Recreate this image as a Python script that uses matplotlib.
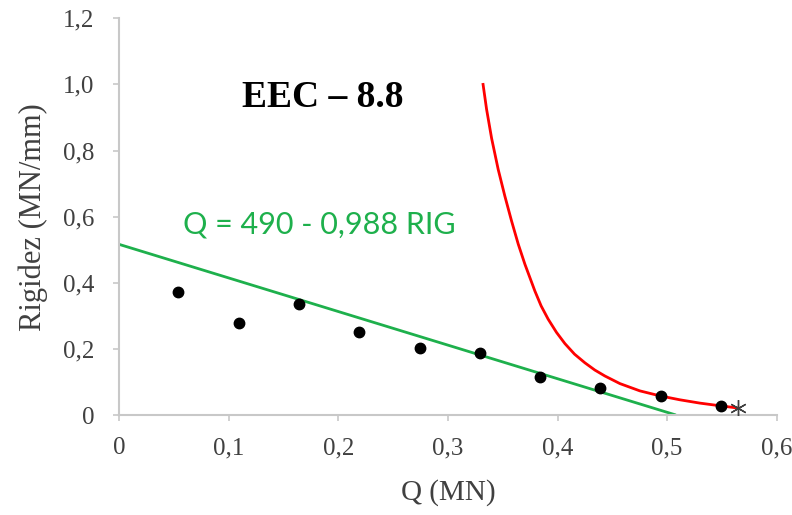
import matplotlib
matplotlib.use("Agg")
import matplotlib.pyplot as plt
from matplotlib.ticker import FixedLocator, FixedFormatter

# ---- data ----
pts_q = [0.054, 0.109, 0.164, 0.219, 0.274, 0.329, 0.384, 0.439, 0.494, 0.549]
pts_rig = [0.371, 0.277, 0.335, 0.250, 0.202, 0.189, 0.114, 0.083, 0.058, 0.027]

star_q = [0.565]
star_rig = [0.020]

green_q = [0.0, 0.508]
green_rig = [0.516, 0.0]

red_q = [0.332, 0.3352, 0.3398, 0.3458, 0.3519, 0.3580, 0.3641, 0.3702,
         0.3793, 0.3850, 0.3914, 0.3990, 0.4067, 0.4155, 0.4249, 0.4340,
         0.4432, 0.4569, 0.4751, 0.4933, 0.5116, 0.5298, 0.5481, 0.5648]
red_rig = [1.000, 0.925, 0.837, 0.743, 0.662, 0.587, 0.517, 0.456,
           0.375, 0.330, 0.290, 0.250, 0.216, 0.184, 0.158, 0.136,
           0.118, 0.095, 0.073, 0.058, 0.046, 0.036, 0.028, 0.021]

xticks = [0, 0.1, 0.2, 0.3, 0.4, 0.5, 0.6]
xticklabels = ["0", "0,1", "0,2", "0,3", "0,4", "0,5", "0,6"]
yticks = [0, 0.2, 0.4, 0.6, 0.8, 1.0, 1.2]
yticklabels = ["0", "0,2", "0,4", "0,6", "0,8", "1,0", "1,2"]

title_text = "EEC \u2013 8.8"
eq_text = "Q = 490 - 0,988 RIG"
xlabel = "Q (MN)"
ylabel = "Rigidez (MN/mm)"

# ---- figure ----
W, H = 792, 515
fig = plt.figure(figsize=(W / 100, H / 100), dpi=100)
ax = fig.add_axes([119.3 / W, 1 - 415 / H, (776.7 - 119.3) / W, (415 - 18.3) / H])

serif = ["Liberation Serif", "DejaVu Serif"]
grey_spine = "#c8c8c8"
txt_col = "#404040"

ax.plot(green_q, green_rig, color="#1eb04c", lw=2.0, solid_capstyle="butt", zorder=2)
ax.plot(red_q, red_rig, color="#ff0000", lw=2.0, solid_joinstyle="round", zorder=2)
ax.plot(pts_q, pts_rig, linestyle="none", marker="o", markersize=7.5,
        color="black", zorder=3)
ax.plot(star_q, star_rig, linestyle="none", marker=(6, 2, 0), markersize=12,
        markeredgewidth=1.0, color="#404040", zorder=3)

ax.set_xlim(0, 0.6)
ax.set_ylim(0, 1.2)
ax.xaxis.set_major_locator(FixedLocator(xticks))
ax.xaxis.set_major_formatter(FixedFormatter(xticklabels))
ax.yaxis.set_major_locator(FixedLocator(yticks))
ax.yaxis.set_major_formatter(FixedFormatter(yticklabels))

for s in ["top", "right"]:
    ax.spines[s].set_visible(False)
for s in ["left", "bottom"]:
    ax.spines[s].set_color(grey_spine)
    ax.spines[s].set_linewidth(1.5)

ax.tick_params(axis="both", direction="out", length=4, width=1.2,
               color=grey_spine, labelcolor=txt_col, labelsize=18)
ax.tick_params(axis="y", pad=14)
ax.tick_params(axis="x", pad=12)
for lab in ax.get_xticklabels() + ax.get_yticklabels():
    lab.set_family(serif)

ax.set_xlabel(xlabel, family=serif, fontsize=21, color=txt_col, labelpad=14)
ax.set_ylabel(ylabel, family=serif, fontsize=22, color=txt_col, labelpad=11)

fig.text(241.7 / W, 1 - 106.7 / H, title_text, family=serif, fontweight="bold",
         fontsize=27, color="black", ha="left", va="baseline")
fig.text(183 / W, 1 - 233 / H, eq_text, family=["Lato", "DejaVu Sans"],
         fontsize=22, color="#1eb04c", ha="left", va="baseline")

fig.savefig("out.png", dpi=100)
